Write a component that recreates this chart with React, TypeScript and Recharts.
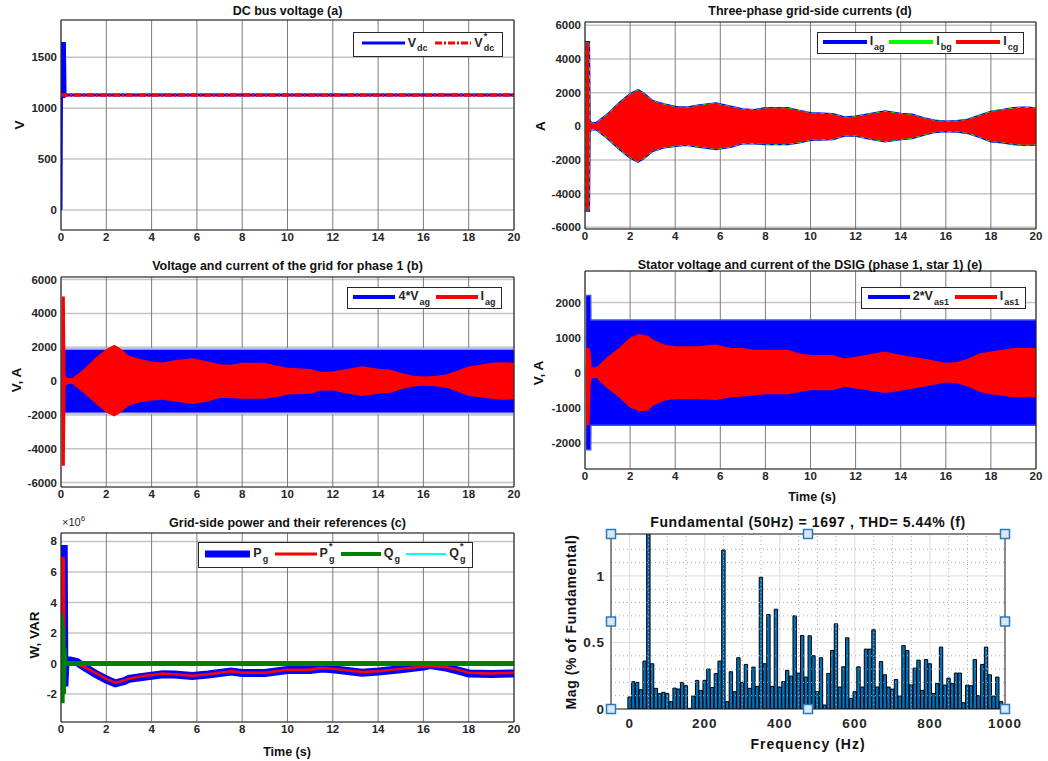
import React from "react";
import { ComposedChart, Line, Area, Bar, XAxis, YAxis, CartesianGrid, ReferenceLine, ReferenceDot } from "recharts";

const FONT = '"Liberation Sans", Arial, Helvetica, sans-serif';
const INK = "#262626";

// ---- shared time axis ----
const timeTicks = [0, 2, 4, 6, 8, 10, 12, 14, 16, 18, 20];

// ---- (a) DC bus voltage ----
const vdcT = [0, 0.03, 0.05, 0.07, 0.09, 0.11, 0.13, 0.15, 0.18, 20];
const vdcV = [0, 1650, 1100, 1650, 1100, 1650, 1100, 1650, 1130, 1130];
const vdcRefT = [0, 20];
const vdcRefV = [1130, 1130];
const vdcTicks = [0, 500, 1000, 1500];

// ---- grid current Iag envelope (b, d) ----
const gridT = [0.02, 0.03, 0.17, 0.2, 0.3, 0.5, 1, 1.5, 2, 2.35, 2.6, 3, 3.5, 4, 4.5, 5, 5.8, 6.5, 7, 7.5, 8, 9, 9.5, 10, 11, 11.5, 12, 12.5, 13.3, 14, 14.5, 15, 15.5, 16, 16.5, 17, 17.5, 18, 18.5, 19, 19.5, 20];
const gridHi = [0, 5000, 5000, 300, 180, 180, 700, 1350, 1900, 2150, 1950, 1500, 1300, 1150, 1100, 1230, 1350, 1150, 1000, 960, 1080, 1080, 920, 780, 720, 530, 570, 690, 880, 730, 690, 490, 330, 275, 300, 390, 630, 860, 960, 1080, 1110, 1080];
const gridLo = [0, -5000, -5000, -300, -180, -180, -700, -1300, -1850, -2100, -1900, -1450, -1250, -1150, -1100, -1200, -1350, -1200, -1000, -1000, -1050, -1050, -950, -800, -750, -550, -550, -700, -880, -750, -700, -500, -330, -270, -300, -400, -620, -880, -950, -1050, -1100, -1080];
const currentTicks = [-6000, -4000, -2000, 0, 2000, 4000, 6000];

// ---- (b) grid voltage 4*Vag ----
const vagT = [0.03, 20];
const vagHi = [1850, 1850];
const vagLo = [-1850, -1850];
const vagEdgeHi = [1960, 1960];
const vagEdgeLo = [-1960, -1960];

// ---- (e) stator voltage / current ----
const vasT = [0.05, 0.25, 0.26, 20];
const vasHi = [2200, 2200, 1500, 1500];
const vasLo = [-2200, -2200, -1500, -1500];
const iasT = [0.03, 0.05, 0.2, 0.25, 0.3, 0.5, 1, 1.5, 2, 2.4, 2.8, 3, 3.5, 4, 5, 5.8, 6.5, 7, 7.5, 8, 9, 9.5, 10, 11, 11.5, 12, 13.3, 14, 15, 16, 16.5, 17, 17.5, 18, 19, 20];
const iasHi = [0, 700, 700, 550, 150, 150, 450, 700, 1000, 1100, 1050, 950, 800, 750, 750, 800, 700, 700, 650, 650, 650, 550, 500, 500, 400, 450, 600, 500, 400, 280, 300, 400, 550, 600, 700, 700];
const iasLo = [0, -1500, -1500, -300, -150, -150, -450, -700, -1000, -1100, -1080, -950, -800, -750, -750, -780, -700, -680, -650, -620, -620, -550, -500, -500, -400, -450, -580, -520, -400, -280, -300, -400, -550, -620, -700, -700];
const statorTicks = [-2000, -1000, 0, 1000, 2000];

// ---- (c) grid-side powers (x10^6) ----
const pT = [0, 0.02, 0.12, 0.15, 0.2, 0.4, 0.7, 1, 1.5, 2, 2.4, 2.8, 3, 3.5, 4, 4.5, 5, 5.8, 6.5, 7, 7.5, 8, 9, 9.5, 10, 11, 11.5, 12, 13.3, 14, 15, 16, 16.3, 17, 17.5, 18, 19, 20];
const pgRef = [0, 6.9, 6.9, -0.3, 0, 0, -0.05, -0.2, -0.6, -1.0, -1.25, -1.1, -1.0, -0.85, -0.75, -0.65, -0.7, -0.8, -0.7, -0.6, -0.5, -0.6, -0.6, -0.5, -0.4, -0.4, -0.3, -0.35, -0.55, -0.5, -0.35, -0.2, -0.15, -0.25, -0.4, -0.6, -0.65, -0.6];
const pg = [0, 7.5, 7.5, -1.5, 0.2, 0.2, 0.1, -0.2, -0.65, -1.05, -1.3, -1.15, -1.0, -0.9, -0.8, -0.7, -0.72, -0.82, -0.72, -0.62, -0.52, -0.62, -0.62, -0.52, -0.42, -0.42, -0.32, -0.37, -0.6, -0.52, -0.37, -0.2, -0.1, -0.27, -0.45, -0.65, -0.68, -0.65];
const qT = [0, 0.02, 0.05, 0.08, 0.11, 0.14, 0.18, 20];
const qg = [0, 3.2, -2.6, 2.4, -2.0, 1.0, 0, 0];
const qRefT = [0, 20];
const qRef = [0, 0];
const powerTicks = [-2, 0, 2, 4, 6, 8];

// ---- (f) FFT of grid current ----
const fftHz = [0, 10, 20, 30, 40, 50, 60, 70, 80, 90, 100, 110, 120, 130, 140, 150, 160, 170, 180, 190,
  200, 210, 220, 230, 240, 250, 260, 270, 280, 290, 300, 310, 320, 330, 340, 350, 360, 370, 380, 390,
  400, 410, 420, 430, 440, 450, 460, 470, 480, 490, 500, 510, 520, 530, 540, 550, 560, 570, 580, 590,
  600, 610, 620, 630, 640, 650, 660, 670, 680, 690, 700, 710, 720, 730, 740, 750, 760, 770, 780, 790,
  800, 810, 820, 830, 840, 850, 860, 870, 880, 890, 900, 910, 920, 930, 940, 950, 960, 970, 980, 990];
const fftMag = [0.09, 0.205, 0.2, 0.145, 0.36, 100, 0.34, 0.155, 0.115, 0.125, 0.117, 0.055, 0.157, 0.15, 0.2, 0.175, 0.005, 0.097, 0.215, 0.14,
  0.215, 0.3, 0.162, 0.267, 0.36, 1.195, 0.055, 0.28, 0.13, 0.385, 0.2, 0.335, 0.155, 0.315, 0.17, 0.99, 0.34, 0.71, 0.17, 0.75,
  0.165, 0.205, 0.29, 0.247, 0.7, 0.27, 0.552, 0.24, 0.55, 0.4, 0.13, 0.385, 0.03, 0.267, 0.44, 0.64, 0.165, 0.317, 0.535, 0.08,
  0.13, 0.317, 0.165, 0.45, 0.45, 0.595, 0.165, 0.357, 0.257, 0.165, 0.15, 0.222, 0.097, 0.477, 0.44, 0.182, 0.307, 0.367, 0.14, 0.372,
  0.34, 0.117, 0.192, 0.465, 0.18, 0.232, 0.19, 0.27, 0.27, 0.047, 0.18, 0.175, 0.372, 0.1, 0.335, 0.465, 0.257, 0.097, 0.24, 0.055];
const fftXTicks = [0, 200, 400, 600, 800, 1000];
const fftYTicks = [0, 0.5, 1];
const fftMinorX = [50, 100, 150, 250, 300, 350, 450, 500, 550, 650, 700, 750, 850, 900, 950];
const fftMinorY = [0.1, 0.2, 0.3, 0.4, 0.6, 0.7, 0.8, 0.9, 1.1, 1.2];
const fftHandles = [[-50, 0], [475, 0], [1000, 0], [-50, 0.6575], [1000, 0.6575], [-50, 1.315], [475, 1.315], [1000, 1.315]];

const rows = (t: number[], v: number[]) => t.map((x, i) => ({ t: x, v: v[i] }));
const bands = (t: number[], lo: number[], hi: number[]) => t.map((x, i) => ({ t: x, r: [lo[i], hi[i]] }));

type Box = { x0: number; y0: number; x1: number; y1: number };
const PADL = 60, PADT = 10, PADR = 10, PADB = 30;

const tick = (size = 11.5, ls = 0) => ({ fill: INK, fontSize: size, fontWeight: "bold", fontFamily: FONT, letterSpacing: ls });

function TimePanel({ box, yDomain, yTicks, children }: { box: Box; yDomain: number[]; yTicks: number[]; children: any }) {
  const w = box.x1 - box.x0 + PADL + PADR;
  const h = box.y1 - box.y0 + PADT + PADB;
  return (
    <div style={{ position: "absolute", left: box.x0 - PADL, top: box.y0 - PADT }}>
      <ComposedChart width={w} height={h} margin={{ top: PADT, right: PADR, bottom: 0, left: 0 }}>
        <CartesianGrid vertical={false} stroke="#c4c4c4" strokeWidth={1.5} />
        <CartesianGrid horizontal={false} stroke="#7c7c7c" />
        <XAxis type="number" dataKey="t" domain={[0, 20]} ticks={timeTicks} interval={0} allowDataOverflow height={PADB}
          tickSize={0} tickMargin={3} axisLine={{ stroke: INK }} tick={tick()} />
        <YAxis type="number" domain={yDomain} ticks={yTicks} interval={0} allowDataOverflow width={PADL}
          tickSize={0} tickMargin={4} axisLine={{ stroke: INK }} tick={tick()} />
        {children}
        <ReferenceLine x={20} stroke={INK} ifOverflow="visible" />
        <ReferenceLine y={yDomain[1]} stroke={INK} ifOverflow="visible" />
      </ComposedChart>
    </div>
  );
}

function FftPanel({ box }: { box: Box }) {
  const data = fftHz.map((f, i) => ({ t: f, v: fftMag[i] }));
  const padR = 34;
  const w = box.x1 - box.x0 + PADL + padR;
  const h = box.y1 - box.y0 + PADT + PADB;
  const handle = (p: any) => (
    <rect x={p.cx - 4.5} y={p.cy - 4.5} width={9} height={9} fill="#d9e8f5" stroke="#2f78b8" strokeWidth={1.5} />
  );
  return (
    <div style={{ position: "absolute", left: box.x0 - PADL, top: box.y0 - PADT }}>
      <ComposedChart width={w} height={h} data={data} margin={{ top: PADT, right: padR, bottom: 0, left: 0 }}>
        <CartesianGrid stroke="#dcdcdc" />
        {fftMinorX.map((x) => <ReferenceLine key={"mx" + x} x={x} stroke="#a8a8a8" strokeDasharray="1 3" />)}
        {fftMinorY.map((y) => <ReferenceLine key={"my" + y} y={y} stroke="#a8a8a8" strokeDasharray="1 3" />)}
        <XAxis type="number" dataKey="t" domain={[-50, 1000]} ticks={fftXTicks} interval={0} allowDataOverflow height={PADB}
          tickSize={0} tickMargin={9} axisLine={{ stroke: INK }} tick={tick(13.5, 1)} />
        <YAxis type="number" domain={[0, 1.315]} ticks={fftYTicks} interval={0} allowDataOverflow width={PADL}
          tickSize={0} tickMargin={6} axisLine={{ stroke: INK }} tick={tick(13.5, 1)} />
        <Bar dataKey="v" barSize={3.4} fill="#0072BD" stroke="#000" strokeWidth={1} isAnimationActive={false} />
        <ReferenceLine x={1000} stroke={INK} ifOverflow="visible" />
        <ReferenceLine y={1.315} stroke={INK} ifOverflow="visible" />
        {fftHandles.map(([x, y], i) => (
          <ReferenceDot key={"h" + i} x={x} y={y} r={4} ifOverflow="visible" shape={handle} />
        ))}
      </ComposedChart>
    </div>
  );
}

function Txt({ x, y, size = 12, rot = 0, bold = true, ls = 0, children }: any) {
  return (
    <div style={{
      position: "absolute", left: x, top: y, transform: `translate(-50%, -50%) rotate(${rot}deg)`,
      whiteSpace: "nowrap", fontFamily: FONT, fontSize: size, fontWeight: bold ? "bold" : "normal",
      color: "#111", letterSpacing: ls, lineHeight: 1,
    }}>{children}</div>
  );
}

function Sym({ b, sub, sup, size = 12.5 }: { b: string; sub: string; sup?: string; size?: number }) {
  return (
    <span style={{ fontSize: size, fontWeight: "bold", color: INK, whiteSpace: "nowrap", lineHeight: 1 }}>
      {b}
      <span style={{ position: "relative", display: "inline-block", marginLeft: 1 }}>
        <span style={{ fontSize: size * 0.72, position: "relative", top: size * 0.35 }}>{sub}</span>
        {sup ? <span style={{ position: "absolute", left: 0, top: -size * 0.4, fontSize: size * 0.72 }}>{sup}</span> : null}
      </span>
    </span>
  );
}

type Item = { color: string; w: number; len: number; dash?: string; label: any };
function Legend({ x, y, w, h, items }: { x: number; y: number; w: number; h: number; items: Item[] }) {
  return (
    <div style={{
      position: "absolute", left: x, top: y, width: w, height: h, boxSizing: "border-box",
      border: `1px solid ${INK}`, background: "#fff", display: "flex", alignItems: "center",
      justifyContent: "space-evenly", fontFamily: FONT, paddingBottom: 3,
    }}>
      {items.map((it, i) => (
        <div key={i} style={{ display: "flex", alignItems: "center", gap: 3 }}>
          <svg width={it.len} height={10}>
            <line x1={0} x2={it.len} y1={5} y2={5} stroke={it.color} strokeWidth={it.w} strokeDasharray={it.dash} />
          </svg>
          {it.label}
        </div>
      ))}
    </div>
  );
}

const boxA: Box = { x0: 61, y0: 20, x1: 514, y1: 230 };
const boxD: Box = { x0: 585, y0: 22, x1: 1036, y1: 229 };
const boxB: Box = { x0: 61, y0: 277, x1: 514, y1: 487 };
const boxE: Box = { x0: 585, y0: 271, x1: 1036, y1: 469 };
const boxC: Box = { x0: 61, y0: 533, x1: 514, y1: 722 };
const boxF: Box = { x0: 611, y0: 534, x1: 1005, y1: 709 };

export default function App() {
  return (
    <div style={{ position: "absolute", left: 0, top: 0, width: 1048, height: 761, background: "#fff", overflow: "hidden", fontFamily: FONT }}>
      {/* (a) */}
      <TimePanel box={boxA} yDomain={[-196, 1866]} yTicks={vdcTicks}>
        <Line data={rows(vdcT, vdcV)} dataKey="v" stroke="#0000ff" strokeWidth={3} dot={false} type="linear" isAnimationActive={false} />
        <Line data={rows(vdcRefT, vdcRefV)} dataKey="v" stroke="#ff0000" strokeWidth={3.5} strokeDasharray="7 2 2 2" dot={false} type="linear" isAnimationActive={false} />
      </TimePanel>

      {/* (d) */}
      <TimePanel box={boxD} yDomain={[-6100, 6200]} yTicks={currentTicks}>
        <Area data={bands(gridT, gridLo, gridHi)} dataKey="r" type="linear" fill="#0000ff" fillOpacity={1} stroke="#0000ff" strokeWidth={2.5} dot={false} isAnimationActive={false} />
        <Area data={bands(gridT, gridLo, gridHi)} dataKey="r" type="linear" fill="#00ff00" fillOpacity={1} stroke="#00ff00" strokeWidth={1.5} strokeDasharray="4 4" dot={false} isAnimationActive={false} />
        <Area data={bands(gridT, gridLo, gridHi)} dataKey="r" type="linear" fill="#ff0000" fillOpacity={1} stroke="none" dot={false} isAnimationActive={false} />
      </TimePanel>

      {/* (b) */}
      <TimePanel box={boxB} yDomain={[-6260, 6150]} yTicks={currentTicks}>
        <Area data={bands(vagT, vagEdgeLo, vagEdgeHi)} dataKey="r" type="linear" fill="#b8bde6" fillOpacity={1} stroke="none" dot={false} isAnimationActive={false} />
        <Area data={bands(vagT, vagLo, vagHi)} dataKey="r" type="linear" fill="#0000ff" fillOpacity={1} stroke="none" dot={false} isAnimationActive={false} />
        <Area data={bands(gridT, gridLo, gridHi)} dataKey="r" type="linear" fill="#ff0000" fillOpacity={1} stroke="none" dot={false} isAnimationActive={false} />
      </TimePanel>

      {/* (e) */}
      <TimePanel box={boxE} yDomain={[-2750, 2900]} yTicks={statorTicks}>
        <Area data={bands(vasT, vasLo, vasHi)} dataKey="r" type="linear" fill="#0000ff" fillOpacity={1} stroke="#3a4cff" strokeWidth={1.5} dot={false} isAnimationActive={false} />
        <Area data={bands(iasT, iasLo, iasHi)} dataKey="r" type="linear" fill="#ff0000" fillOpacity={1} stroke="none" dot={false} isAnimationActive={false} />
      </TimePanel>

      {/* (c) */}
      <TimePanel box={boxC} yDomain={[-3.83, 8.55]} yTicks={powerTicks}>
        <Line data={rows(pT, pg)} dataKey="v" stroke="#0000ff" strokeWidth={8} dot={false} type="linear" isAnimationActive={false} />
        <Line data={rows(pT, pgRef)} dataKey="v" stroke="#ff0000" strokeWidth={2.5} dot={false} type="linear" isAnimationActive={false} />
        <Line data={rows(qRefT, qRef)} dataKey="v" stroke="#00ffff" strokeWidth={1.5} dot={false} type="linear" isAnimationActive={false} />
        <Line data={rows(qT, qg)} dataKey="v" stroke="#008000" strokeWidth={5} dot={false} type="linear" isAnimationActive={false} />
      </TimePanel>

      {/* (f) */}
      <FftPanel box={boxF} />

      {/* titles */}
      <Txt x={287.5} y={11} size={12.5}>DC bus voltage (a)</Txt>
      <Txt x={810} y={11} size={12.5}>Three-phase grid-side currents (d)</Txt>
      <Txt x={287.5} y={266} size={12.5}>Voltage and current of the grid for phase 1 (b)</Txt>
      <Txt x={810} y={265} size={12.5}>Stator voltage and current of the DSIG (phase 1, star 1) (e)</Txt>
      <Txt x={287.5} y={523} size={12.5}>Grid-side power and their references (c)</Txt>
      <Txt x={808} y={522} size={14} ls={0.6}>Fundamental (50Hz) = 1697 , THD= 5.44% (f)</Txt>

      {/* axis labels */}
      <Txt x={20} y={125} size={13.5} rot={-90}>V</Txt>
      <Txt x={541} y={126} size={13.5} rot={-90}>A</Txt>
      <Txt x={17} y={380} size={13.5} rot={-90}>V, A</Txt>
      <Txt x={539} y={373} size={13.5} rot={-90}>V, A</Txt>
      <Txt x={35} y={635} size={13.5} rot={-90}>W, VAR</Txt>
      <Txt x={571} y={622} size={14} rot={-90} ls={0.6}>Mag (% of Fundamental)</Txt>
      <Txt x={812} y={497} size={12.5}>Time (s)</Txt>
      <Txt x={287} y={752} size={12.5}>Time (s)</Txt>
      <Txt x={808} y={744} size={14} ls={1}>Frequency (Hz)</Txt>
      <div style={{ position: "absolute", left: 62, top: 516, fontFamily: FONT, fontSize: 11, color: INK, whiteSpace: "nowrap" }}>
        ×10<span style={{ fontSize: 8, position: "relative", top: -5 }}>6</span>
      </div>

      {/* legends */}
      <Legend x={353} y={32} w={150} h={25} items={[
        { color: "#0000ff", w: 3, len: 43, label: <Sym b="V" sub="dc" /> },
        { color: "#ff0000", w: 3, len: 36, dash: "7 2 2 2", label: <Sym b="V" sub="dc" sup="*" /> },
      ]} />
      <Legend x={817} y={32} w={207} h={22} items={[
        { color: "#0000ff", w: 4, len: 44, label: <Sym b="I" sub="ag" /> },
        { color: "#00ff00", w: 4, len: 44, label: <Sym b="I" sub="bg" /> },
        { color: "#ff0000", w: 4, len: 44, label: <Sym b="I" sub="cg" /> },
      ]} />
      <Legend x={347} y={287} w={155} h={22} items={[
        { color: "#0000ff", w: 4, len: 42, label: <Sym b="4*V" sub="ag" /> },
        { color: "#ff0000", w: 4, len: 42, label: <Sym b="I" sub="ag" /> },
      ]} />
      <Legend x={861} y={287} w={165} h={22} items={[
        { color: "#0000ff", w: 4, len: 42, label: <Sym b="2*V" sub="as1" /> },
        { color: "#ff0000", w: 4, len: 42, label: <Sym b="I" sub="as1" /> },
      ]} />
      <Legend x={198} y={542} w={275} h={26} items={[
        { color: "#0000ff", w: 7, len: 45, label: <Sym b="P" sub="g" /> },
        { color: "#ff0000", w: 3, len: 42, label: <Sym b="P" sub="g" sup="*" /> },
        { color: "#008000", w: 4, len: 40, label: <Sym b="Q" sub="g" /> },
        { color: "#00ffff", w: 2, len: 40, label: <Sym b="Q" sub="g" sup="*" /> },
      ]} />
    </div>
  );
}
